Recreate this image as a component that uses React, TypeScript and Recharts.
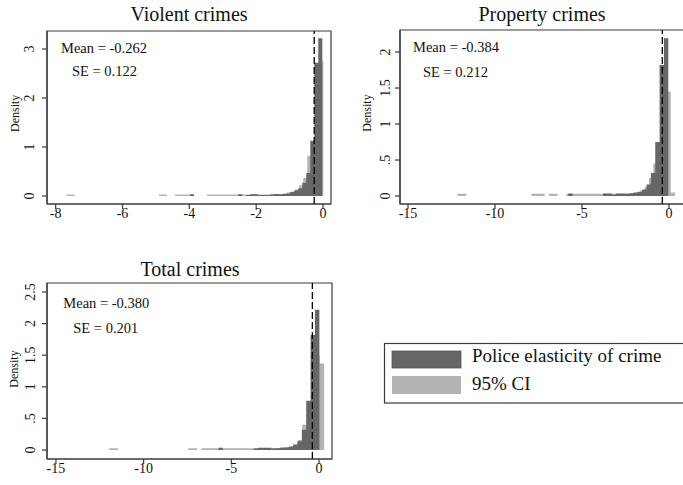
import { ComposedChart, Area, XAxis, YAxis, ReferenceLine, ReferenceArea } from 'recharts';

// ---------------------------------------------------------------------------
// Histogram bins: [left edge, density]. Each panel has a fixed bin width.
// Dark = police elasticity of crime, light = 95% CI.
// ---------------------------------------------------------------------------
type Bin = [number, number];

const violentBinWidth = 0.12;
const violentDark: Bin[] = [
  [-0.14, 3.22], [-0.26, 2.72], [-0.38, 1.13], [-0.5, 0.47], [-0.62, 0.27],
  [-0.74, 0.16], [-0.86, 0.11], [-0.98, 0.08], [-1.1, 0.05], [-1.22, 0.04],
  [-1.34, 0.035], [-1.46, 0.04], [-1.58, 0.03], [-1.7, 0.02], [-1.82, 0.02],
  [-1.94, 0.02], [-2.06, 0.035], [-2.18, 0.035], [-2.3, 0.02], [-2.54, 0.035],
  [-3.98, 0.035],
];
const violentLight: Bin[] = [
  [-0.11, 2.76], [-0.23, 2.62], [-0.35, 1.02], [-0.47, 0.82], [-0.59, 0.37],
  [-0.71, 0.22], [-0.83, 0.14], [-0.95, 0.09], [-1.07, 0.07], [-1.19, 0.05],
  [-1.31, 0.04], [-1.43, 0.035], [-1.55, 0.035], [-1.67, 0.03], [-1.79, 0.03],
  [-1.91, 0.03], [-2.03, 0.03], [-2.15, 0.03], [-2.27, 0.03], [-2.39, 0.03],
  [-2.51, 0.03], [-2.63, 0.03], [-2.75, 0.03], [-2.87, 0.03], [-2.99, 0.03],
  [-3.11, 0.03], [-3.23, 0.03], [-3.35, 0.03], [-3.47, 0.03],
  [-4.07, 0.03], [-4.19, 0.03], [-4.31, 0.03], [-4.43, 0.03],
  [-4.79, 0.03], [-4.91, 0.03],
  [-7.55, 0.03], [-7.67, 0.03],
];

const propertyBinWidth = 0.25;
const propertyDark: Bin[] = [
  [-0.29, 2.19], [-0.54, 1.82], [-0.79, 0.75], [-1.04, 0.32], [-1.29, 0.16],
  [-1.54, 0.09], [-1.79, 0.06], [-2.04, 0.05], [-2.29, 0.04], [-2.54, 0.03],
  [-2.79, 0.035], [-3.04, 0.035], [-3.29, 0.02], [-3.54, 0.035], [-3.79, 0.035],
  [-5.79, 0.035],
];
const propertyLight: Bin[] = [
  [0.1, 0.05], [-0.15, 1.45], [-0.4, 1.7], [-0.65, 0.72], [-0.9, 0.45],
  [-1.15, 0.25], [-1.4, 0.13], [-1.65, 0.08], [-1.9, 0.05], [-2.15, 0.04],
  [-2.4, 0.035], [-2.65, 0.03], [-2.9, 0.03], [-3.15, 0.03], [-3.4, 0.03],
  [-3.65, 0.03], [-3.9, 0.03], [-4.15, 0.03], [-4.4, 0.03], [-4.65, 0.03],
  [-4.9, 0.03], [-5.15, 0.03], [-5.4, 0.03], [-5.65, 0.03], [-5.9, 0.03],
  [-6.65, 0.03], [-6.9, 0.03],
  [-7.4, 0.03], [-7.65, 0.03], [-7.9, 0.03],
  [-11.9, 0.03], [-12.15, 0.03],
];

const totalBinWidth = 0.25;
const totalDark: Bin[] = [
  [-0.23, 2.22], [-0.48, 1.82], [-0.73, 0.78], [-0.98, 0.32], [-1.23, 0.14],
  [-1.48, 0.08], [-1.73, 0.05], [-1.98, 0.04], [-2.23, 0.035], [-2.48, 0.03],
  [-2.73, 0.025], [-2.98, 0.035], [-3.23, 0.035], [-3.48, 0.035], [-3.73, 0.025],
  [-5.73, 0.035],
];
const totalLight: Bin[] = [
  [0.04, 1.37], [-0.21, 1.5], [-0.46, 1.2], [-0.71, 0.55], [-0.96, 0.4],
  [-1.21, 0.16], [-1.46, 0.1], [-1.71, 0.06], [-1.96, 0.045], [-2.21, 0.04],
  [-2.46, 0.03], [-2.71, 0.03], [-2.96, 0.03], [-3.21, 0.03], [-3.46, 0.03],
  [-3.71, 0.03], [-3.96, 0.03], [-4.21, 0.03], [-4.46, 0.03], [-4.71, 0.03],
  [-4.96, 0.03], [-5.21, 0.03], [-5.46, 0.03], [-5.71, 0.03], [-5.96, 0.03],
  [-6.21, 0.03], [-6.46, 0.03], [-6.71, 0.03],
  [-7.21, 0.03], [-7.46, 0.03],
  [-11.71, 0.03], [-11.96, 0.03],
];

const violentMean = -0.262;
const propertyMean = -0.384;
const totalMean = -0.38;

const violentXTicks = [-8, -6, -4, -2, 0];
const violentYTicks = [0, 1, 2, 3];
const propertyXTicks = [-15, -10, -5, 0];
const propertyYTicks = [0, 0.5, 1, 1.5, 2];
const totalXTicks = [-15, -10, -5, 0];
const totalYTicks = [0, 0.5, 1, 1.5, 2, 2.5];

const SERIF = "'Liberation Serif', 'Times New Roman', serif";
const DARK = '#666666';
const LIGHT = '#b3b3b3';
const INK = '#3a3a3a';

const r3 = (v: number) => Math.round(v * 1000) / 1000;

// turn the two bin lists into one step table (union of all bin edges)
function buildTable(dark: Bin[], light: Bin[], w: number) {
  const edges = new Set<number>();
  [...dark, ...light].forEach(([l]) => {
    edges.add(r3(l));
    edges.add(r3(l + w));
  });
  const xs = [...edges].sort((a, b) => a - b);
  const at = (bins: Bin[], x: number) => {
    const b = bins.find(([l]) => x >= r3(l) - 1e-9 && x < r3(l + w) - 1e-9);
    return b ? b[1] : 0;
  };
  return xs.map((x) => ({ x, dark: at(dark, x), light: at(light, x) }));
}

const fmtY = (v: number) => (v === 0 ? '0' : String(v).replace(/^0\./, '.'));
const fmtX = (v: number) => String(v);

interface PanelProps {
  left: number;
  top: number;
  width: number;
  height: number;
  margin: { top: number; right: number; bottom: number; left: number };
  xAxisHeight: number;
  xDomain: [number, number];
  yDomain: [number, number];
  xTicks: number[];
  yTicks: number[];
  dark: Bin[];
  light: Bin[];
  binWidth: number;
  mean: number;
  yLabelShift: number;
}

function Panel(p: PanelProps) {
  const data = buildTable(p.dark, p.light, p.binWidth);
  const axisStroke = { stroke: INK, strokeWidth: 1.2 };
  return (
    <div style={{ position: 'absolute', left: p.left, top: p.top }}>
      <ComposedChart width={p.width} height={p.height} data={data} margin={p.margin}>
        <XAxis
          dataKey="x"
          type="number"
          domain={p.xDomain}
          allowDataOverflow
          ticks={p.xTicks}
          interval={0}
          height={p.xAxisHeight}
          tickSize={5}
          axisLine={axisStroke}
          tickLine={axisStroke}
          tick={(t: any) => (
            <text x={t.x} y={t.y + 7} textAnchor="middle" fontSize={14} fontFamily={SERIF} fill="#111">
              {fmtX(t.payload.value)}
            </text>
          )}
        />
        <YAxis
          type="number"
          domain={p.yDomain}
          allowDataOverflow
          ticks={p.yTicks}
          interval={0}
          width={47}
          tickSize={5}
          axisLine={axisStroke}
          tickLine={axisStroke}
          tick={(t: any) => {
            const cx = t.x - p.yLabelShift;
            return (
              <text
                x={cx}
                y={t.y}
                transform={`rotate(-90 ${cx} ${t.y})`}
                textAnchor="middle"
                dominantBaseline="central"
                fontSize={14}
                fontFamily={SERIF}
                fill="#111"
              >
                {fmtY(t.payload.value)}
              </text>
            );
          }}
        />
        <Area
          type="stepAfter"
          dataKey="light"
          baseValue={0}
          fill={LIGHT}
          fillOpacity={1}
          stroke="none"
          dot={false}
          activeDot={false}
          isAnimationActive={false}
        />
        <Area
          type="stepAfter"
          dataKey="dark"
          baseValue={0}
          fill={DARK}
          fillOpacity={1}
          stroke="none"
          dot={false}
          activeDot={false}
          isAnimationActive={false}
        />
        <ReferenceLine x={p.mean} stroke="#000" strokeWidth={1.3} strokeDasharray="7 3" />
        {/* plot region outline */}
        <ReferenceArea
          x1={p.xDomain[0]}
          x2={p.xDomain[1]}
          y1={p.yDomain[0]}
          y2={p.yDomain[1]}
          fill="#fff"
          fillOpacity={0}
          stroke={INK}
          strokeWidth={1.2}
          ifOverflow="visible"
        />
      </ComposedChart>
    </div>
  );
}

export default function App() {
  return (
    <div
      style={{
        position: 'absolute',
        left: 0,
        top: 0,
        width: 683,
        height: 485,
        overflow: 'hidden',
        background: '#fff',
      }}
    >
      <Panel
        left={0}
        top={0}
        width={340}
        height={235}
        margin={{ top: 31, right: 9, bottom: 0, left: 0 }}
        xAxisHeight={31}
        xDomain={[-8.26, 0.24]}
        yDomain={[-0.163, 3.367]}
        xTicks={violentXTicks}
        yTicks={violentYTicks}
        dark={violentDark}
        light={violentLight}
        binWidth={violentBinWidth}
        mean={violentMean}
        yLabelShift={10.5}
      />
      <Panel
        left={353}
        top={0}
        width={331}
        height={235}
        margin={{ top: 30, right: 0, bottom: 0, left: 0 }}
        xAxisHeight={31}
        xDomain={[-15.46, 0.862]}
        yDomain={[-0.111, 2.306]}
        xTicks={propertyXTicks}
        yTicks={propertyYTicks}
        dark={propertyDark}
        light={propertyLight}
        binWidth={propertyBinWidth}
        mean={propertyMean}
        yLabelShift={7.5}
      />
      <Panel
        left={0}
        top={250}
        width={340}
        height={235}
        margin={{ top: 33, right: 8, bottom: 0, left: 0 }}
        xAxisHeight={26}
        xDomain={[-15.51, 0.74]}
        yDomain={[-0.142, 2.642]}
        xTicks={totalXTicks}
        yTicks={totalYTicks}
        dark={totalDark}
        light={totalLight}
        binWidth={totalBinWidth}
        mean={totalMean}
        yLabelShift={9.2}
      />
      <svg
        width={683}
        height={485}
        style={{ position: 'absolute', left: 0, top: 0, pointerEvents: 'none' }}
        fontFamily={SERIF}
        fill="#111"
      >
        <text x={189} y={21} fontSize={20} textAnchor="middle">Violent crimes</text>
        <text x={542} y={21} fontSize={20} textAnchor="middle">Property crimes</text>
        <text x={190} y={276} fontSize={20} textAnchor="middle">Total crimes</text>

        <text x={61} y={52.5} fontSize={14.5}>Mean = -0.262</text>
        <text x={72} y={76} fontSize={14.5}>SE = 0.122</text>
        <text x={413} y={52.3} fontSize={14.5}>Mean = -0.384</text>
        <text x={423} y={76.7} fontSize={14.5}>SE = 0.212</text>
        <text x={63.3} y={307.7} fontSize={14.5}>Mean = -0.380</text>
        <text x={73.3} y={333.3} fontSize={14.5}>SE = 0.201</text>

        <text transform="translate(15.2 113.3) rotate(-90)" textAnchor="middle" dominantBaseline="central" fontSize={12}>Density</text>
        <text transform="translate(366.5 113) rotate(-90)" textAnchor="middle" dominantBaseline="central" fontSize={12}>Density</text>
        <text transform="translate(13.8 369) rotate(-90)" textAnchor="middle" dominantBaseline="central" fontSize={12}>Density</text>

        {/* legend */}
        <rect x={384.5} y={343.5} width={320} height={59.5} fill="#fff" stroke={INK} strokeWidth={1.2} />
        <rect x={392} y={351} width={69} height={17} fill={DARK} stroke="#555" strokeWidth={0.8} />
        <rect x={392} y={376} width={69} height={18} fill={LIGHT} />
        <text x={472} y={362} fontSize={19}>Police elasticity of crime</text>
        <text x={472} y={389.5} fontSize={19}>95% CI</text>
      </svg>
    </div>
  );
}
